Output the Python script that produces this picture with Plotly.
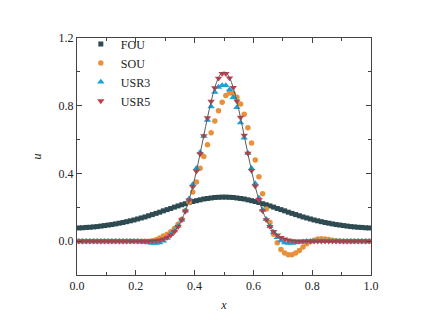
import plotly.graph_objects as go

# cell centres, 80 cells on [0, 1]
x = [0.00625, 0.01875, 0.03125, 0.04375, 0.05625, 0.06875, 0.08125, 0.09375, 0.10625, 0.11875,
     0.13125, 0.14375, 0.15625, 0.16875, 0.18125, 0.19375, 0.20625, 0.21875, 0.23125, 0.24375,
     0.25625, 0.26875, 0.28125, 0.29375, 0.30625, 0.31875, 0.33125, 0.34375, 0.35625, 0.36875,
     0.38125, 0.39375, 0.40625, 0.41875, 0.43125, 0.44375, 0.45625, 0.46875, 0.48125, 0.49375,
     0.50625, 0.51875, 0.53125, 0.54375, 0.55625, 0.56875, 0.58125, 0.59375, 0.60625, 0.61875,
     0.63125, 0.64375, 0.65625, 0.66875, 0.68125, 0.69375, 0.70625, 0.71875, 0.73125, 0.74375,
     0.75625, 0.76875, 0.78125, 0.79375, 0.80625, 0.81875, 0.83125, 0.84375, 0.85625, 0.86875,
     0.88125, 0.89375, 0.90625, 0.91875, 0.93125, 0.94375, 0.95625, 0.96875, 0.98125, 0.99375]

exact = [0, 0, 0, 0, 0, 0, 0, 0, 0, 0,
         0, 0, 0, 0, 0, 0, 0, 0, 0, 0.001,
         0.003, 0.005, 0.008, 0.014, 0.023, 0.037, 0.058, 0.087, 0.127, 0.179,
         0.244, 0.323, 0.415, 0.517, 0.623, 0.729, 0.826, 0.907, 0.965, 0.996,
         0.996, 0.965, 0.907, 0.826, 0.729, 0.623, 0.517, 0.415, 0.323, 0.244,
         0.179, 0.127, 0.087, 0.058, 0.037, 0.023, 0.014, 0.008, 0.005, 0.003,
         0.001, 0, 0, 0, 0, 0, 0, 0, 0, 0,
         0, 0, 0, 0, 0, 0, 0, 0, 0, 0]

fou = [0.078, 0.079, 0.081, 0.082, 0.084, 0.086, 0.089, 0.092, 0.095, 0.098,
       0.102, 0.106, 0.110, 0.115, 0.120, 0.125, 0.131, 0.137, 0.143, 0.150,
       0.157, 0.164, 0.171, 0.179, 0.186, 0.193, 0.201, 0.208, 0.215, 0.221,
       0.228, 0.234, 0.239, 0.244, 0.249, 0.252, 0.255, 0.258, 0.259, 0.260,
       0.260, 0.259, 0.258, 0.255, 0.252, 0.249, 0.244, 0.239, 0.234, 0.228,
       0.221, 0.215, 0.208, 0.201, 0.193, 0.186, 0.179, 0.171, 0.164, 0.157,
       0.150, 0.143, 0.137, 0.131, 0.125, 0.120, 0.115, 0.110, 0.106, 0.102,
       0.098, 0.095, 0.092, 0.089, 0.086, 0.084, 0.082, 0.081, 0.079, 0.078]

sou = [0, 0, 0, 0, 0, 0, 0, 0, 0, 0,
       0, 0, 0, 0, 0, 0, 0, 0, 0, 0,
       0.002, 0.008, 0.018, 0.030, 0.040, 0.055, 0.075, 0.10, 0.13, 0.18,
       0.23, 0.29, 0.35, 0.43, 0.50, 0.57, 0.64, 0.71, 0.77, 0.82,
       0.86, 0.875, 0.872, 0.85, 0.81, 0.75, 0.67, 0.58, 0.48, 0.38,
       0.28, 0.19, 0.11, 0.04, -0.01, -0.05, -0.07, -0.08, -0.08, -0.07,
       -0.055, -0.035, -0.015, -0.003, 0.006, 0.012, 0.014, 0.013, 0.010, 0.006,
       0.003, 0.001, 0, 0, 0, 0, 0, 0, 0, 0]

usr3 = [0, 0, 0, 0, 0, 0, 0, 0, 0, 0,
        0, 0, 0, 0, 0, 0, -0.001, -0.003, -0.006, -0.009,
        -0.012, -0.012, -0.008, 0.002, 0.018, 0.040, 0.062, 0.09, 0.126, 0.18,
        0.25, 0.335, 0.43, 0.525, 0.62, 0.715, 0.795, 0.88, 0.91, 0.92,
        0.92, 0.895, 0.85, 0.79, 0.70, 0.61, 0.52, 0.43, 0.34, 0.255,
        0.185, 0.13, 0.088, 0.052, 0.022, 0.003, -0.008, -0.012, -0.012, -0.009,
        -0.006, -0.003, -0.001, 0, 0, 0, 0, 0, 0, 0,
        0, 0, 0, 0, 0, 0, 0, 0, 0, 0]

usr5 = [0, 0, 0, 0, 0, 0, 0, 0, 0, 0,
        0, 0, 0, 0, 0, 0, 0, 0, 0, 0,
        0.001, 0.003, 0.006, 0.012, 0.021, 0.035, 0.056, 0.085, 0.125, 0.177,
        0.242, 0.321, 0.413, 0.515, 0.622, 0.728, 0.825, 0.905, 0.962, 0.99,
        0.99, 0.963, 0.907, 0.827, 0.731, 0.625, 0.519, 0.417, 0.325, 0.245,
        0.179, 0.126, 0.086, 0.056, 0.035, 0.021, 0.012, 0.006, 0.002, 0,
        -0.001, 0, 0, 0, 0, 0, 0, 0, 0, 0,
        0, 0, 0, 0, 0, 0, 0, 0, 0, 0]

font = "Liberation Serif"

fig = go.Figure()
fig.add_trace(go.Scatter(x=x, y=fou, mode='markers', name='FOU',
                         marker=dict(symbol='square', size=5, color='#2f4b52')))
fig.add_trace(go.Scatter(x=x, y=sou, mode='markers', name='SOU',
                         marker=dict(symbol='circle', size=5.5, color='#e8913a')))
fig.add_trace(go.Scatter(x=x, y=usr3, mode='markers', name='USR3',
                         marker=dict(symbol='triangle-up', size=6.5, color='#17a2d8')))
fig.add_trace(go.Scatter(x=x, y=usr5, mode='markers', name='USR5',
                         marker=dict(symbol='triangle-down', size=6.5, color='#c2404a')))
# exact profile
fig.add_trace(go.Scatter(x=x, y=exact, mode='lines', showlegend=False,
                         line=dict(color='#5a5a5a', width=1, shape='spline')))

axis_style = dict(showline=True, linecolor='#444444', linewidth=1, mirror='allticks',
                  ticks='inside', ticklen=5, tickcolor='#444444', showgrid=False,
                  zeroline=False, tickfont=dict(family=font, size=12, color='#222222'))

fig.update_xaxes(range=[0, 1], tick0=0, dtick=0.2, tickformat='.1f',
                 minor=dict(ticks='inside', dtick=0.1, ticklen=3, tickcolor='#444444'),
                 title=dict(text='<i>x</i>', font=dict(family=font, size=12, color='#222222'),
                            standoff=8),
                 **axis_style)
fig.update_yaxes(range=[-0.2, 1.2], tick0=0, dtick=0.4, tickformat='.1f',
                 minor=dict(ticks='inside', dtick=0.2, ticklen=3, tickcolor='#444444'),
                 title=dict(text='<i>u</i>', font=dict(family=font, size=12, color='#222222'),
                            standoff=14),
                 **axis_style)

# page body adds 8 px, so the figure is a bit smaller than the window
fig.update_layout(width=423, height=322, plot_bgcolor='white', paper_bgcolor='white',
                  margin=dict(l=69, r=60, t=30, b=55),
                  font=dict(family=font, size=12, color='#222222'),
                  legend=dict(x=0.013, y=1.036, xanchor='left', yanchor='top',
                              bgcolor='rgba(0,0,0,0)', font=dict(family=font, size=12),
                              tracegroupgap=0))

fig.write_html("out.html")
